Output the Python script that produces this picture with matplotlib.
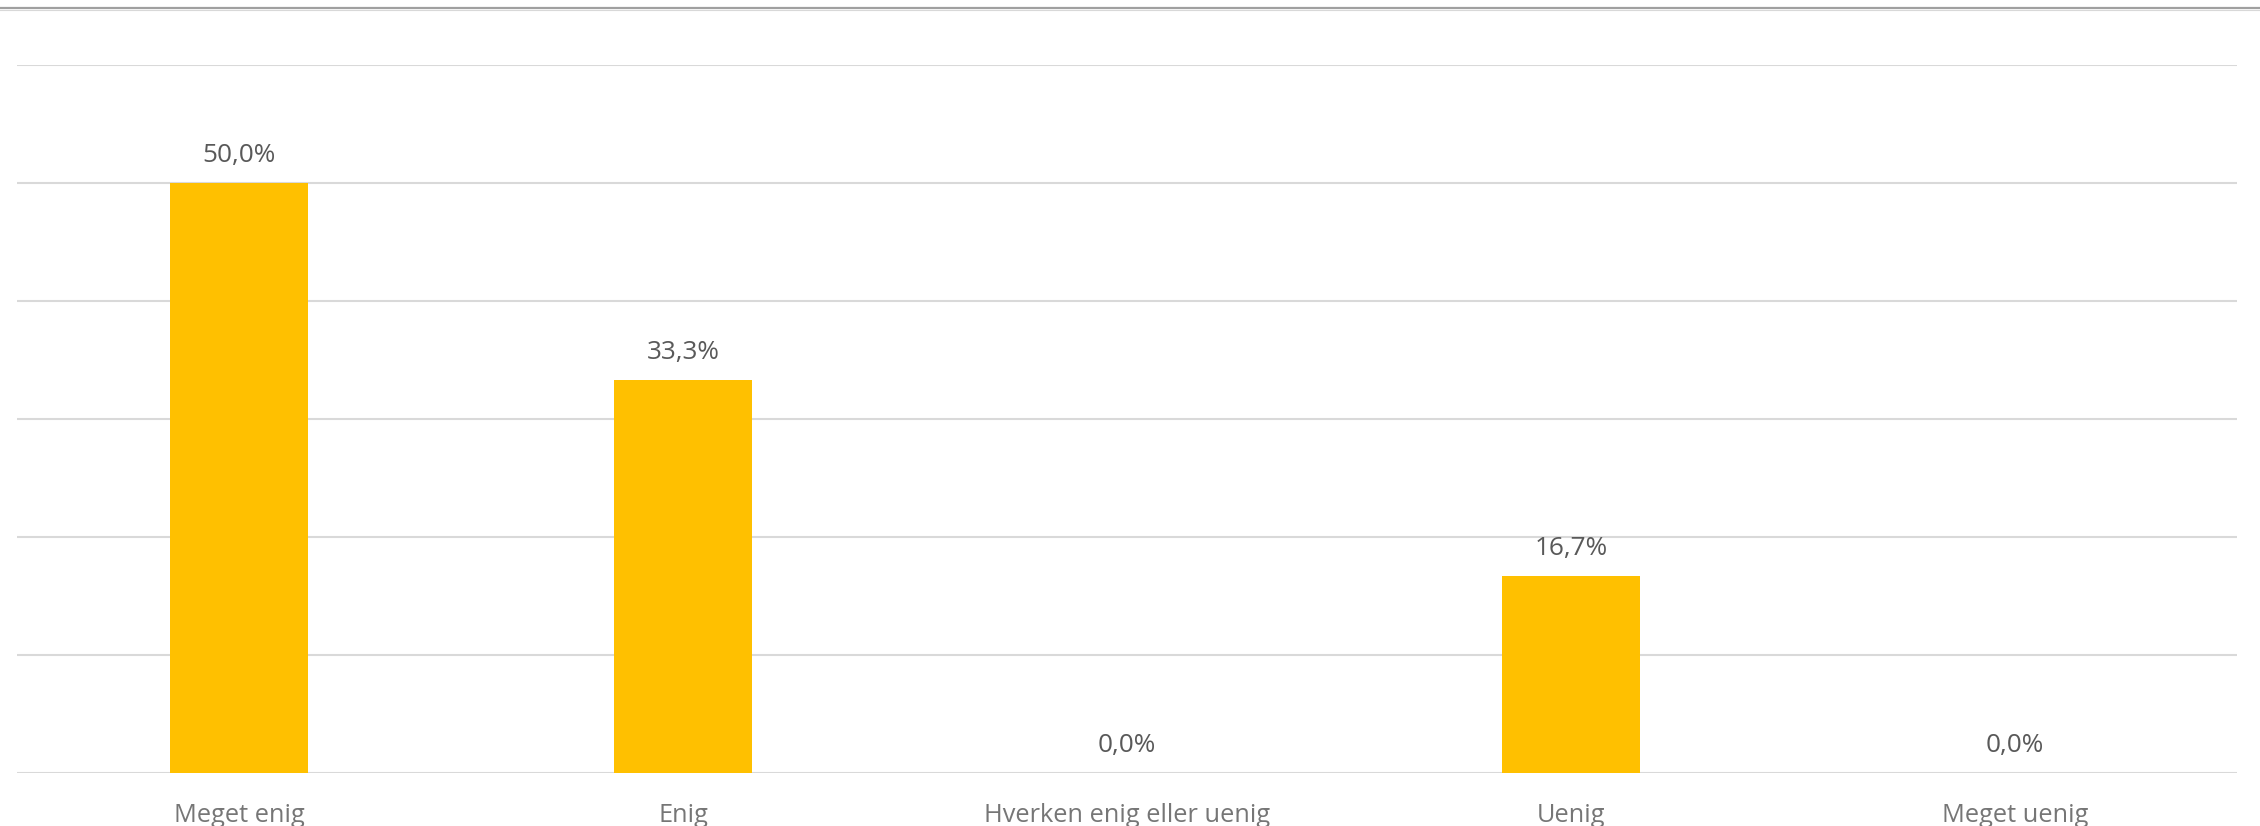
import matplotlib
matplotlib.use("Agg")
import matplotlib.pyplot as plt
from matplotlib.lines import Line2D

categories = ["Meget enig", "Enig", "Hverken enig eller uenig", "Uenig", "Meget uenig"]
values = [0.500, 0.333, 0.0, 0.167, 0.0]

plt.rcParams['font.family'] = ['Open Sans', 'DejaVu Sans']

W, H = 2260, 826
fig = plt.figure(figsize=(W / 100, H / 100), dpi=100)
ax = fig.add_axes([17 / W, 1 - 773 / H, (2237 - 17) / W, (773 - 65) / H])

x = list(range(len(categories)))
ax.bar(x, values, width=0.313, color="#FFC000", zorder=3)

ax.set_xlim(-0.5, len(categories) - 0.5)
ax.set_ylim(0, 0.6)
ax.set_yticks([i / 10 for i in range(7)])
ax.yaxis.grid(True, color="#D9D9D9", linewidth=1.5, zorder=0)
ax.tick_params(axis="y", left=False, labelleft=False)
ax.set_xticks(x)
ax.set_xticklabels(categories, fontsize=18.3, color="#767676")
ax.tick_params(axis="x", bottom=False, pad=18)
for s in ax.spines.values():
    s.set_visible(False)

for xi, v in zip(x, values):
    lbl = f"{v * 100:.1f}%".replace(".", ",")
    ax.annotate(lbl, (xi, v), xytext=(0, 15), textcoords="offset points",
                ha="center", va="baseline", fontsize=18.8, color="#595959")

# top border line
fig.add_artist(Line2D([0, 1], [1 - 8 / H, 1 - 8 / H], transform=fig.transFigure,
                      color="#A0A0A0", linewidth=1.6))
fig.add_artist(Line2D([0, 1], [1 - 9.5 / H, 1 - 9.5 / H], transform=fig.transFigure,
                      color="#D8D8D8", linewidth=0.8))

fig.savefig("out.png", dpi=100, facecolor="white")
